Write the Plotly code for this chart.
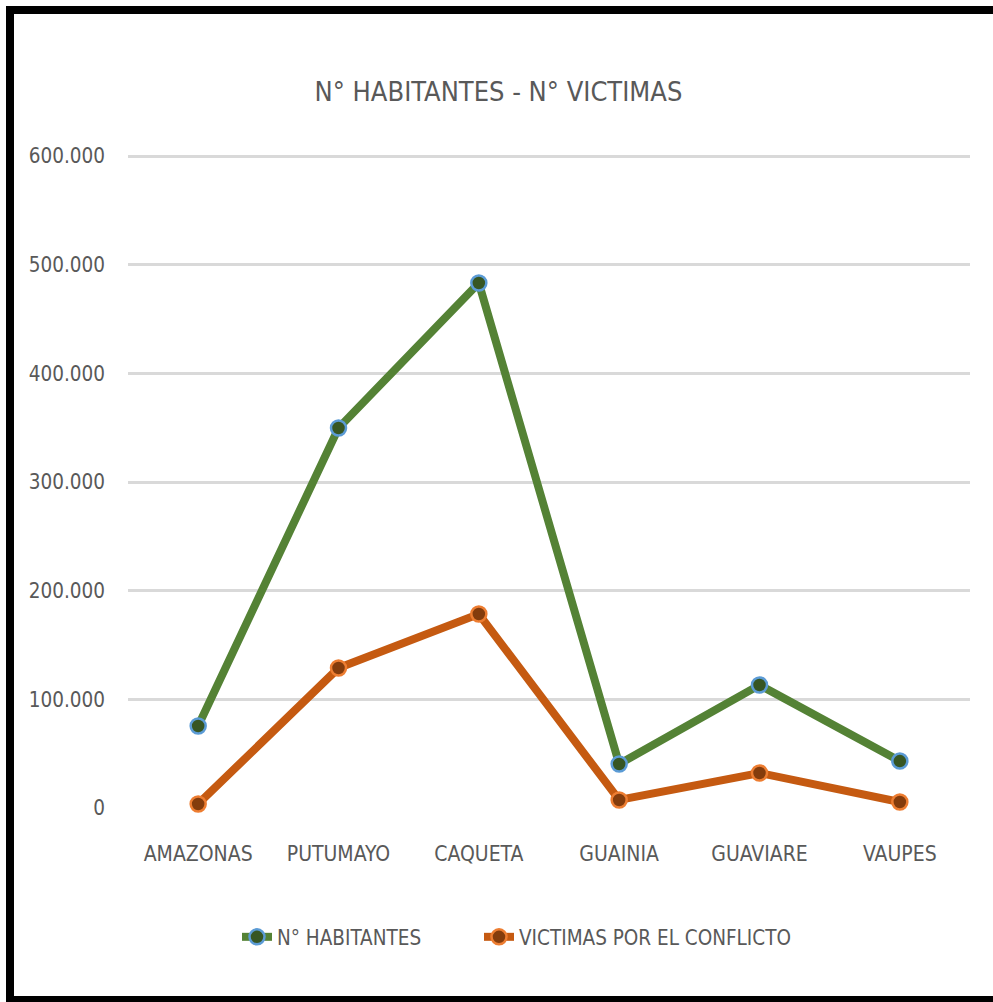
import plotly.graph_objects as go

categories = ["AMAZONAS", "PUTUMAYO", "CAQUETA", "GUAINIA", "GUAVIARE", "VAUPES"]
habitantes = [75500, 349700, 483100, 40500, 113200, 43200]
victimas = [3700, 128800, 178500, 7400, 32200, 5500]
y_tick_vals = [0, 100000, 200000, 300000, 400000, 500000, 600000]
y_tick_text = ["0", "100.000", "200.000", "300.000", "400.000", "500.000", "600.000"]

W, H = 993, 1002
L, R, T, B = 128, 970, 150, 808  # plot area in pixels
Y_TOP = 600000 * (B - T) / (808 - 156)  # so that 600.000 sits at pixel 156

FONT = "Liberation Sans Narrow, DejaVu Sans Condensed, Arial Narrow, sans-serif"
GRAY = "#595959"

def px_x(p):
    return (p - L) / (R - L)

def px_y(p):
    return (B - p) / (B - T)

fig = go.Figure()
fig.add_trace(go.Scatter(
    x=categories, y=habitantes, name="N° HABITANTES", mode="lines+markers",
    line=dict(color="#548235", width=8),
    marker=dict(size=15, color="#375623", line=dict(color="#5b9bd5", width=2.5)),
    cliponaxis=False, legend="legend",
))
fig.add_trace(go.Scatter(
    x=categories, y=victimas, name="VICTIMAS POR EL CONFLICTO", mode="lines+markers",
    line=dict(color="#c55a11", width=8),
    marker=dict(size=15, color="#843c0c", line=dict(color="#ed7d31", width=2.5)),
    cliponaxis=False, legend="legend2",
))

shapes = [
    dict(type="rect", xref="paper", yref="paper", x0=px_x(6), x1=px_x(14), y0=px_y(1002), y1=px_y(6),
         fillcolor="black", line=dict(width=0), layer="above"),
    dict(type="rect", xref="paper", yref="paper", x0=px_x(6), x1=px_x(993), y0=px_y(14), y1=px_y(6),
         fillcolor="black", line=dict(width=0), layer="above"),
    dict(type="rect", xref="paper", yref="paper", x0=px_x(6), x1=px_x(993), y0=px_y(1002), y1=px_y(996),
         fillcolor="black", line=dict(width=0), layer="above"),
]

legend_common = dict(orientation="h", xanchor="left", y=px_y(937), yanchor="middle",
                     font=dict(size=20.5, color=GRAY), bgcolor="rgba(0,0,0,0)")

fig.update_layout(
    width=W, height=H,
    margin=dict(l=L, r=W - R, t=T, b=H - B, pad=0),
    paper_bgcolor="white", plot_bgcolor="white",
    font=dict(family=FONT, color=GRAY, size=21),
    title=dict(text="N° HABITANTES - N° VICTIMAS", x=0.502, xanchor="center",
               y=1 - 92 / H, yanchor="middle", yref="container",
               font=dict(family=FONT, size=27, color=GRAY)),
    xaxis=dict(range=[-0.5, 5.5], showgrid=False, zeroline=False, showline=False,
               ticks="", tickfont=dict(size=21, color=GRAY), ticklabelstandoff=31,
               fixedrange=True),
    yaxis=dict(range=[0, Y_TOP], tickvals=y_tick_vals, ticktext=y_tick_text,
               showgrid=True, gridcolor="#d9d9d9", gridwidth=2.5, zeroline=False,
               showline=False, ticks="", tickfont=dict(size=20.5, color=GRAY),
               ticklabelstandoff=22, fixedrange=True),
    legend=dict(x=px_x(237), **legend_common),
    legend2=dict(x=px_x(479), **legend_common),
    showlegend=True,
    shapes=shapes,
)

fig.write_html("out.html", post_script="document.body.style.margin='0';",
               config={"displayModeBar": False})
